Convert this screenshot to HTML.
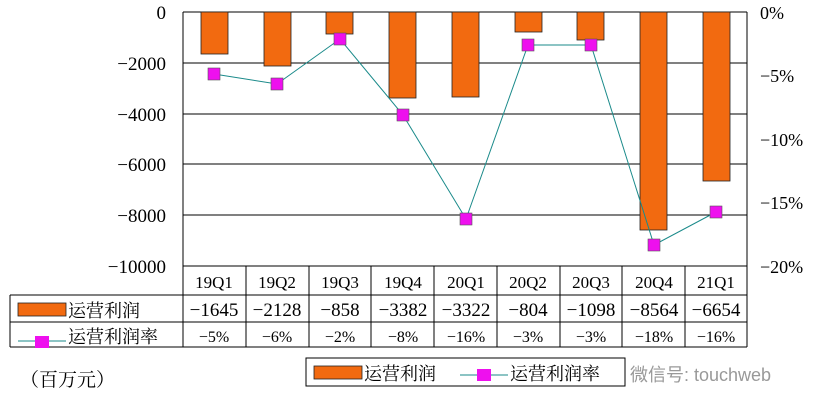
<!DOCTYPE html>
<html><head><meta charset="utf-8"><style>
html,body{margin:0;padding:0;background:#fff;}
svg{display:block;font-family:"Liberation Serif","Noto Serif CJK SC",serif;}
</style></head><body>
<svg width="819" height="410" viewBox="0 0 819 410" xmlns="http://www.w3.org/2000/svg">
<g stroke="#000" stroke-width="1">
<line x1="183" y1="12" x2="747" y2="12"/>
<line x1="183" y1="63" x2="747" y2="63"/>
<line x1="183" y1="114" x2="747" y2="114"/>
<line x1="183" y1="164" x2="747" y2="164"/>
<line x1="183" y1="215" x2="747" y2="215"/>
<line x1="183" y1="12" x2="183" y2="347"/>
<line x1="747" y1="12" x2="747" y2="347"/>
<line x1="183" y1="266" x2="747" y2="266"/>
<line x1="10" y1="295" x2="747" y2="295"/>
<line x1="10" y1="322" x2="747" y2="322"/>
<line x1="10" y1="347" x2="747" y2="347"/>
<line x1="10" y1="295" x2="10" y2="347"/>
<line x1="246" y1="266" x2="246" y2="347"/><line x1="309" y1="266" x2="309" y2="347"/>
<line x1="371" y1="266" x2="371" y2="347"/><line x1="434" y1="266" x2="434" y2="347"/>
<line x1="497" y1="266" x2="497" y2="347"/><line x1="560" y1="266" x2="560" y2="347"/>
<line x1="622" y1="266" x2="622" y2="347"/><line x1="685" y1="266" x2="685" y2="347"/>
</g>
<g fill="#f26a10" stroke="#222" stroke-width="0.8">
<rect x="201" y="12" width="27" height="42"/>
<rect x="264" y="12" width="27" height="54"/>
<rect x="326" y="12" width="27" height="22"/>
<rect x="389" y="12" width="27" height="86"/>
<rect x="452" y="12" width="27" height="85"/>
<rect x="515" y="12" width="27" height="20"/>
<rect x="577" y="12" width="27" height="28"/>
<rect x="640" y="12" width="27" height="218"/>
<rect x="703" y="12" width="27" height="169"/>
</g>
<polyline fill="none" stroke="#1a8a8a" stroke-width="1" points="214,74 277,84 340,39 403,115 466,219 528,45 591,45 654,245 716,212"/>
<g fill="#ee10ee" stroke="#555" stroke-width="0.6">
<rect x="208" y="68" width="12" height="12"/><rect x="271" y="78" width="12" height="12"/>
<rect x="334" y="33" width="12" height="12"/><rect x="397" y="109" width="12" height="12"/>
<rect x="460" y="213" width="12" height="12"/><rect x="522" y="39" width="12" height="12"/>
<rect x="585" y="39" width="12" height="12"/><rect x="648" y="239" width="12" height="12"/>
<rect x="710" y="206" width="12" height="12"/>
</g>
<g font-size="19" text-anchor="end" fill="#000">
<text x="166" y="19">0</text><text x="166" y="70">−2000</text><text x="166" y="121">−4000</text>
<text x="166" y="171">−6000</text><text x="166" y="222">−8000</text><text x="166" y="273">−10000</text>
</g>
<g font-size="18" fill="#000">
<text x="760" y="19">0%</text><text x="760" y="82">−5%</text><text x="760" y="146">−10%</text>
<text x="760" y="209">−15%</text><text x="760" y="273">−20%</text>
</g>
<g font-size="17" text-anchor="middle" fill="#000">
<text x="214" y="288">19Q1</text><text x="277" y="288">19Q2</text><text x="340" y="288">19Q3</text>
<text x="403" y="288">19Q4</text><text x="466" y="288">20Q1</text><text x="528" y="288">20Q2</text>
<text x="591" y="288">20Q3</text><text x="654" y="288">20Q4</text><text x="716" y="288">21Q1</text>
</g>
<g font-size="19" text-anchor="middle" fill="#000">
<text x="214" y="316">−1645</text><text x="277" y="316">−2128</text><text x="340" y="316">−858</text>
<text x="403" y="316">−3382</text><text x="466" y="316">−3322</text><text x="528" y="316">−804</text>
<text x="591" y="316">−1098</text><text x="654" y="316">−8564</text><text x="716" y="316">−6654</text>
</g>
<g font-size="16" text-anchor="middle" fill="#000">
<text x="214" y="342">−5%</text><text x="277" y="342">−6%</text><text x="340" y="342">−2%</text>
<text x="403" y="342">−8%</text><text x="466" y="342">−16%</text><text x="528" y="342">−3%</text>
<text x="591" y="342">−3%</text><text x="654" y="342">−18%</text><text x="716" y="342">−16%</text>
</g>
<rect x="18" y="303" width="48" height="13" fill="#f26a10" stroke="#222" stroke-width="0.8"/>
<text x="68" y="317" font-size="18">运营利润</text>
<line x1="18" y1="341" x2="66" y2="341" stroke="#1a8a8a"/>
<rect x="35" y="336" width="14" height="12" fill="#ee10ee"/>
<text x="68" y="343" font-size="18">运营利润率</text>
<text x="20" y="386" font-size="19">（百万元）</text>
<rect x="306" y="358" width="319" height="28" fill="#fff" stroke="#000"/>
<rect x="314" y="366" width="48" height="13" fill="#f26a10" stroke="#222" stroke-width="0.8"/>
<text x="364" y="380" font-size="18">运营利润</text>
<line x1="460" y1="375" x2="508" y2="375" stroke="#1a8a8a"/>
<rect x="477" y="369" width="14" height="12" fill="#ee10ee"/>
<text x="510" y="380" font-size="18">运营利润率</text>
<text x="630" y="381" font-size="18" fill="#999" font-family="Liberation Sans,Noto Sans CJK SC,sans-serif">微信号: touchweb</text>
</svg>
</body></html>
